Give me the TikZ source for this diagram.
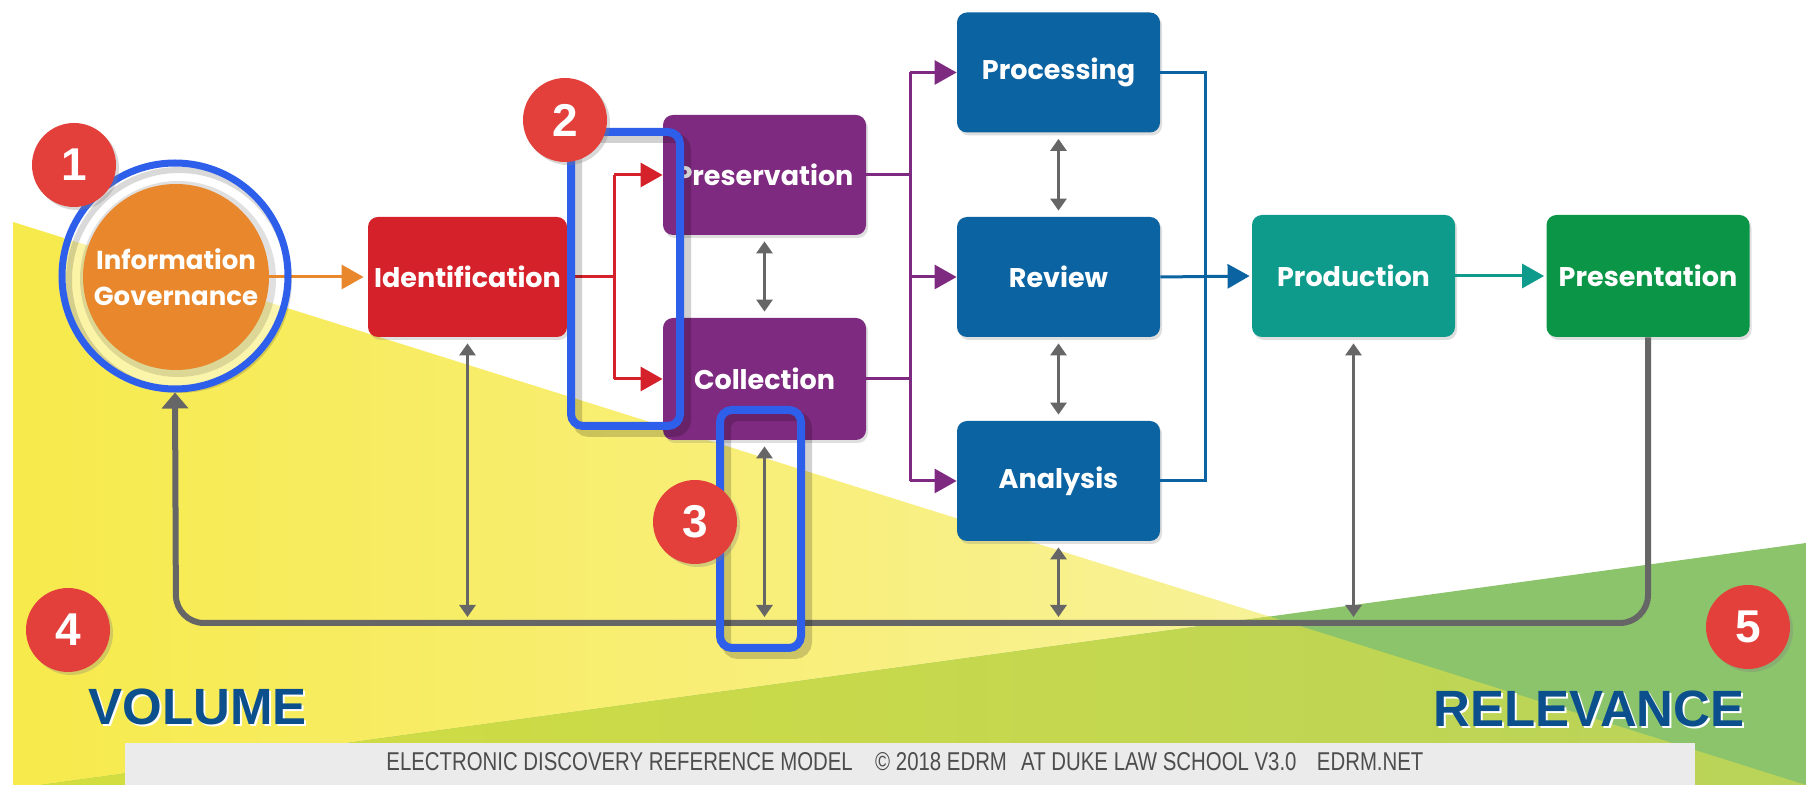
\documentclass[tikz,border=0pt]{standalone}
\usepackage{fontspec}
\setmainfont{Liberation Sans}
\newfontfamily\labfont{Poppins}
\usetikzlibrary{arrows.meta,shadows}

\definecolor{igorange}{HTML}{E8872B}
\definecolor{idred}{HTML}{D4212A}
\definecolor{ppurple}{HTML}{7E2A80}
\definecolor{pblue}{HTML}{0B63A1}
\definecolor{pteal}{HTML}{0F9B8B}
\definecolor{pgreen}{HTML}{0B9547}
\definecolor{hlblue}{HTML}{2E5FEA}
\definecolor{badgered}{HTML}{E3403B}
\definecolor{lgray}{HTML}{666666}
\definecolor{volblue}{HTML}{0C4F8D}
\definecolor{footgray}{HTML}{EBEBEB}
\definecolor{foottext}{HTML}{4D4D4D}
\definecolor{ylw}{HTML}{F7EA4C}
\definecolor{ylwpale}{HTML}{F9F5B8}
\definecolor{limeA}{HTML}{D3DD3F}
\definecolor{limeB}{HTML}{B9D35A}
\definecolor{grn}{HTML}{8CC46C}

\tikzset{
  stage/.style={rounded corners=5pt, text=white, inner sep=0pt,
    font=\labfont\bfseries\fontsize{13.5}{16}\selectfont,
    minimum width=101.5pt, minimum height=60pt,
    drop shadow={shadow xshift=1pt, shadow yshift=-1.5pt, opacity=0.25}},
  flow/.style={line width=1.5pt},
  tipbig/.style={-{Triangle[length=11pt,width=12pt]}},
  twoway/.style={lgray, line width=1.4pt,
    {Triangle[length=6pt,width=8pt]}-{Triangle[length=6pt,width=8pt]},
    shorten >=3pt, shorten <=3pt},
  hlbox/.style={draw=hlblue, line width=4pt, rounded corners=6pt, inner sep=0pt},
  hlshade/.style={draw=black, draw opacity=0.18, line width=5pt, rounded corners=6pt},
  badge/.style={circle, fill=badgered, minimum size=42pt, inner sep=0pt,
    text=white, font=\bfseries\fontsize{23}{23}\selectfont,
    drop shadow={shadow xshift=1.5pt, shadow yshift=-1.5pt, opacity=0.3}},
  bigword/.style={font=\bfseries\fontsize{25.5}{26}\selectfont, inner sep=0pt},
  loopline/.style={lgray, line width=3pt, rounded corners=14pt},
}

\begin{document}
\begin{tikzpicture}[x=0.5pt, y=-0.5pt]
\useasboundingbox (0,0) rectangle (1806,785);
\fill[white] (0,0) rectangle (1806,785);

% background wedges: volume (yellow) and relevance (green), overlap in lime
\shade[left color=ylw, right color=ylwpale] (13,222) -- (1806,785) -- (13,785) -- cycle;
\fill[grn] (41,785) -- (1806,543) -- (1806,785) -- cycle;
\begin{scope}
  \clip (13,222) -- (1806,785) -- (13,785) -- cycle;
  \shade[left color=limeA, right color=limeB] (41,785) -- (1806,543) -- (1806,785) -- cycle;
\end{scope}

% footer band
\fill[footgray] (125,743) rectangle (1695,785);
\node[anchor=base west, inner sep=0pt, text=foottext] (foot) at (386,770)
  {\resizebox{518.5pt}{9pt}{ELECTRONIC DISCOVERY REFERENCE MODEL\hspace{1.1em}\copyright\ 2018 EDRM\hspace{0.7em}AT DUKE LAW SCHOOL V3.0\hspace{1em}EDRM.NET}};

% information governance
\node[circle, fill=white, fill opacity=0.5, minimum size=116.5pt, inner sep=0pt, outer sep=0pt] (igring) at (175,276) {};
\fill[black, opacity=0.12] (178,279) circle[radius=49pt];
\node[circle, fill=igorange, minimum size=93pt, inner sep=0pt, text=white, align=center,
  font=\labfont\bfseries\fontsize{13}{18}\selectfont] (ig) at (176,277) {Information\\Governance};

% stages
\node[stage, fill=idred, minimum width=99.5pt] (ident) at (467.5,277) {Identification};
\node[stage, fill=ppurple] (pres) at (764.5,175) {Preservation};
\node[stage, fill=ppurple, minimum height=61pt] (coll) at (764.5,379) {Collection};
\node[stage, fill=pblue] (proc) at (1058.5,72.5) {Processing};
\node[stage, fill=pblue] (rev) at (1058.5,277) {Review};
\node[stage, fill=pblue] (ana) at (1058.5,481) {Analysis};
\node[stage, fill=pteal, minimum height=61pt] (prod) at (1353.5,276) {Production};
\node[stage, fill=pgreen, minimum height=61pt] (prsn) at (1648,276) {Presentation};

% junction columns and loop corners
\coordinate (rj) at (614,0);
\coordinate (pj) at (910,0);
\coordinate (bj) at (1205,0);
\coordinate (loopR) at (1648,623);
\coordinate (loopL) at (176,623);

% feedback loop back to information governance
\draw[loopline, -{Triangle[length=8pt,width=13pt]}] (prsn.south) -- (loopR) -- (loopL) -- (igring.south);

% forward flow
\draw[flow, igorange, tipbig, shorten >=2pt] (ig.east) -- (ident.west);
\draw[flow, idred] (ident.east) -- (ident.east -| rj);
\draw[flow, idred] (rj |- pres.west) -- (rj |- coll.west);
\draw[flow, idred, tipbig] (rj |- pres.west) -- (pres.west);
\draw[flow, idred, tipbig] (rj |- coll.west) -- (coll.west);
\draw[flow, ppurple] (pres.east) -- (pres.east -| pj);
\draw[flow, ppurple] (coll.east) -- (coll.east -| pj);
\draw[flow, ppurple] (pj |- proc.west) -- (pj |- ana.west);
\draw[flow, ppurple, tipbig] (pj |- proc.west) -- (proc.west);
\draw[flow, ppurple, tipbig] (pj |- rev.west) -- (rev.west);
\draw[flow, ppurple, tipbig] (pj |- ana.west) -- (ana.west);
\draw[flow, pblue] (proc.east) -- (proc.east -| bj) -- (ana.east -| bj) -- (ana.east);
\draw[flow, pblue, tipbig, shorten >=1pt] (rev.east) -- (prod.west);
\draw[flow, pteal, tipbig, shorten >=1pt] (prod.east) -- (prsn.west);

% two-way links
\draw[twoway] (pres.south) -- (coll.north);
\draw[twoway] (proc.south) -- (rev.north);
\draw[twoway] (rev.south) -- (ana.north);
\draw[twoway] (ident.south) -- (ident.south |- loopL);
\draw[twoway] (coll.south) -- (coll.south |- loopL);
\draw[twoway] (ana.south) -- (ana.south |- loopL);
\draw[twoway] (prod.south) -- (prod.south |- loopL);

% highlight ring around information governance
\draw[black, opacity=0.15, line width=3pt] (179,280) circle[radius=55pt];
\draw[hlblue, line width=3.5pt] (igring.center) circle[radius=56.5pt];

% highlight frames
\draw[hlshade] (577,138) rectangle (686,432);
\draw[hlshade] (726,416) rectangle (807,654);
\node[hlbox, minimum width=54.5pt, minimum height=147pt] (hlA) at (625.5,279) {};
\node[hlbox, minimum width=40.5pt, minimum height=119pt] (hlB) at (760.5,529) {};

% numbered markers
\node[badge] (b1) at (74,165) {1};
\node[badge] (b2) at (565,120) {2};
\node[badge] (b3) at (695,522) {3};
\node[badge] (b4) at (68,630) {4};
\node[badge] (b5) at (1748,627) {5};

% axis words
\node[bigword, anchor=base west, text=white] (volS) at (90,727) {VOLUME};
\node[bigword, anchor=base west, text=volblue] (vol) at (88,725) {VOLUME};
\node[bigword, anchor=base east, text=white] (relS) at (1747,729) {RELEVANCE};
\node[bigword, anchor=base east, text=volblue] (rel) at (1745,727) {RELEVANCE};
\end{tikzpicture}
\end{document}
